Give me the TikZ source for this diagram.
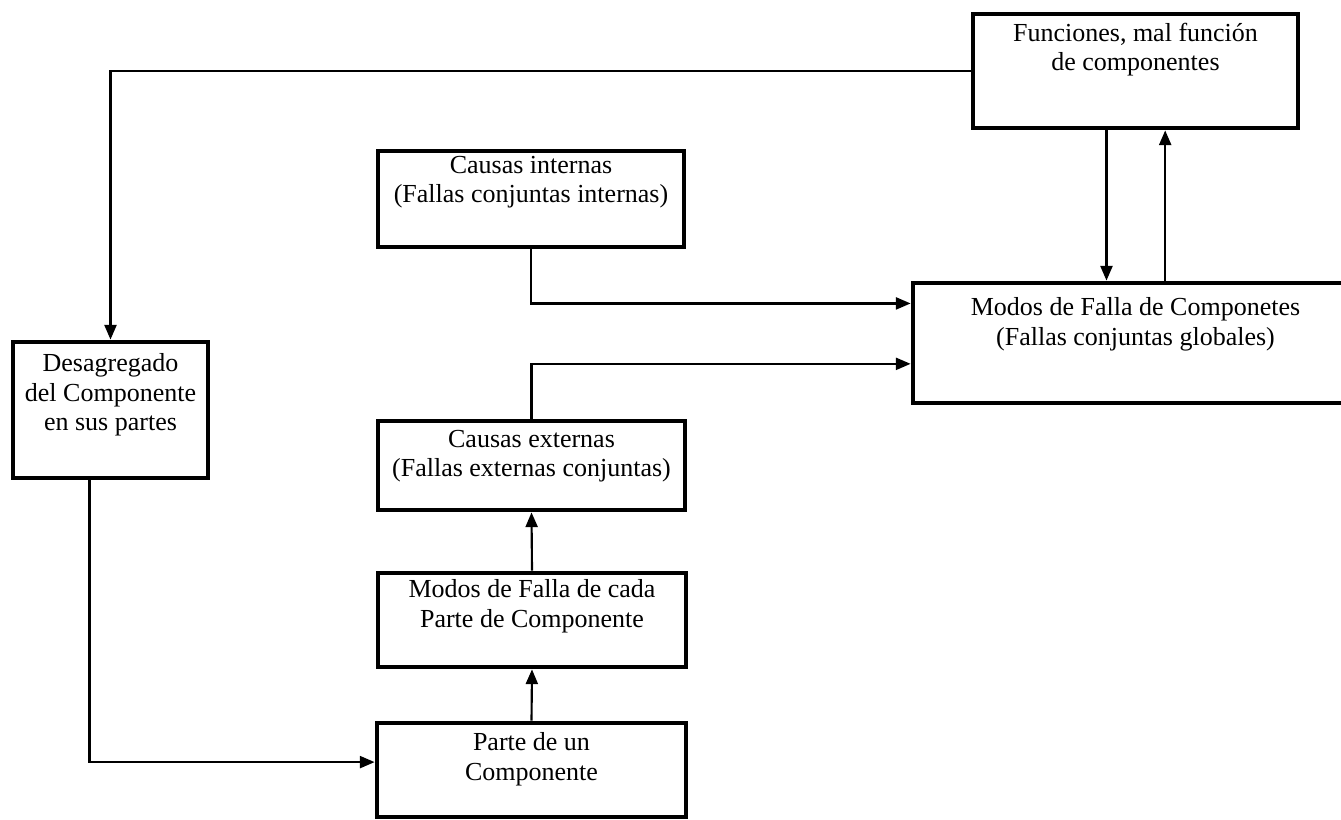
\documentclass[tikz,border=0pt]{standalone}
\usepackage{fontspec}
\setmainfont{Liberation Serif}
\usetikzlibrary{arrows.meta,calc,fit}
\begin{document}
\begin{tikzpicture}[x=0.75pt,y=-0.75pt,
  box/.style={draw, line width=3.6pt, inner sep=0pt},
  txt/.style={align=center, inner sep=0pt, anchor=north, font=\fontsize{19.5}{22}\selectfont},
  conn/.style={line width=1.6pt},
  arr/.style={conn, -{Triangle[length=11pt,width=9pt]}}]
\clip (0,0) rectangle (1341,820);
% box corners
\coordinate (f1) at (973,14);   \coordinate (f2) at (1298,128);
\coordinate (i1) at (378,151);  \coordinate (i2) at (684,247);
\coordinate (m1) at (913,283);  \coordinate (m2) at (1358,403);
\coordinate (d1) at (13,342);   \coordinate (d2) at (208,478);
\coordinate (e1) at (378,421);  \coordinate (e2) at (685,510);
\coordinate (p1) at (378,573);  \coordinate (p2) at (686,667);
\coordinate (u1) at (377,723);  \coordinate (u2) at (686,817);
% boxes
\node[box, fit=(f1)(f2)] (fun) {};
\node[box, fit=(i1)(i2)] (ci) {};
\node[box, fit=(m1)(m2)] (mfc) {};
\node[box, fit=(d1)(d2)] (des) {};
\node[box, fit=(e1)(e2)] (ce) {};
\node[box, fit=(p1)(p2)] (mcp) {};
\node[box, fit=(u1)(u2)] (pc) {};
% texts
\node[txt] (funT) at ($(fun.north)+(0,11)$) {Funciones, mal función\\de componentes};
\node[txt] (ciT) at ($(ci.north)+(0,7)$) {Causas internas\\(Fallas conjuntas internas)};
\node[txt] (mfcT) at ($(mfc.north)+(0,17)$) {Modos de Falla de Componetes\\(Fallas conjuntas globales)};
\node[txt] (desT) at ($(des.north)+(0,14)$) {Desagregado\\del Componente\\en sus partes};
\node[txt] (ceT) at ($(ce.north)+(0,11)$) {Causas externas\\(Fallas externas conjuntas)};
\node[txt] (mcpT) at ($(mcp.north)+(0,9)$) {Modos de Falla de cada\\Parte de Componente};
\node[txt] (pcT) at ($(pc.north)+(0,12)$) {Parte de un\\Componente};
% connectors
\draw[arr] (fun.west) -| (des.north);
\coordinate (dout) at ($(des.south west)!0.395!(des.south east)$);
\draw[arr] (dout) |- ($(pc.north west)!0.42!(pc.south west)$);
\draw[arr] (ci.south) |- ($(mfc.north west)!0.183!(mfc.south west)$);
\draw[arr] (ce.north) |- ($(mfc.north west)!0.667!(mfc.south west)$);
\draw[arr] (mcp.north) -- (ce.south);
\draw[arr] (pc.north) -- (mcp.south);
\coordinate (fdown) at ($(fun.south west)!0.412!(fun.south east)$);
\coordinate (fup) at ($(fun.south west)!0.59!(fun.south east)$);
\draw[arr] (fdown) -- (fdown |- mfc.north);
\draw[arr] (fup |- mfc.north) -- (fup);
\end{tikzpicture}
\end{document}
